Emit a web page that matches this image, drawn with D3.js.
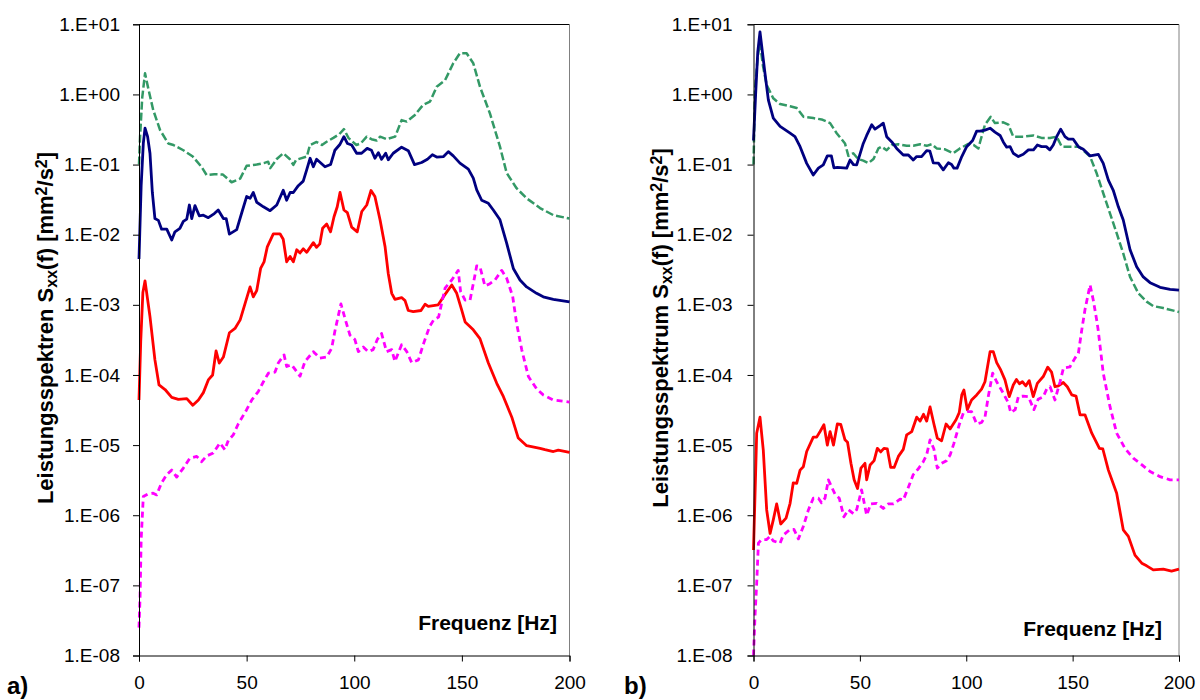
<!DOCTYPE html>
<html>
<head>
<meta charset="utf-8">
<script src="https://cdn.jsdelivr.net/npm/d3@7"></script>
<style>
  body { margin: 0; background: #fff; }
  svg { display: block; font-family: "Liberation Sans", Arial, sans-serif; }
</style>
</head>
<body>
<div id="chart-area"></div>
<script>
// Frequency [Hz] vs. power spectral density [mm^2/s^2]

// panel a)
var aGreen = [[0,0.1],[0.5,0.25],[1.5,0.9],[2.8,2.0],[4.3,1.22],[6.6,0.6],[9.8,0.31],[13.6,0.2],[16,0.19],[20.6,0.16],[25,0.13],[29,0.093],[31.4,0.071],[35,0.073],[39,0.072],[43,0.056],[47,0.063],[50,0.096],[54.7,0.1],[58,0.105],[60,0.11],[61,0.089],[64,0.12],[67,0.145],[70,0.12],[71.7,0.099],[73,0.117],[78,0.13],[79.4,0.19],[82.5,0.21],[85,0.19],[87,0.21],[90.3,0.24],[93,0.27],[95.2,0.32],[97.3,0.24],[101,0.19],[103,0.2],[105.8,0.25],[108,0.23],[110.4,0.22],[112,0.25],[115,0.23],[119,0.25],[122,0.43],[124.4,0.41],[128.2,0.51],[132,0.71],[135.2,0.79],[138.3,1.29],[142.2,1.6],[146,2.78],[149.1,3.87],[152.2,3.87],[155.3,2.78],[158.4,1.29],[163,0.54],[167.7,0.18],[170.8,0.076],[175.4,0.046],[180.1,0.033],[186.3,0.024],[192.5,0.019],[200,0.017]];
var aNavy = [[0,0.0045],[1,0.05],[2,0.2],[2.8,0.33],[4,0.25],[5.1,0.145],[6.2,0.04],[7.4,0.017],[9,0.016],[10.5,0.012],[12.9,0.012],[15.2,0.0084],[16.7,0.011],[19,0.0123],[20.6,0.0155],[22.2,0.0167],[23.4,0.0265],[24.5,0.017],[26,0.026],[28,0.0186],[29.9,0.019],[32.2,0.0175],[35,0.02],[36.8,0.0225],[39.2,0.017],[40.5,0.017],[42,0.0102],[45.4,0.0118],[47.7,0.0204],[50,0.035],[51.6,0.033],[53.1,0.04],[54.7,0.029],[57.8,0.025],[60.9,0.022],[64,0.0265],[67,0.043],[68.6,0.031],[70.2,0.04],[71.7,0.04],[74,0.05],[76.3,0.058],[77.9,0.084],[79.5,0.123],[81,0.093],[82.5,0.119],[86.4,0.093],[89,0.1],[91,0.16],[93.4,0.195],[95.2,0.25],[96.8,0.2],[98.8,0.19],[101.1,0.145],[103.4,0.145],[106,0.17],[108,0.16],[109.6,0.123],[111.2,0.148],[112.7,0.119],[114.6,0.145],[115.8,0.117],[118.1,0.145],[122,0.177],[125.1,0.158],[128,0.1],[131.3,0.107],[134,0.119],[136.3,0.138],[138.3,0.128],[141.5,0.13],[143.7,0.153],[146,0.133],[149.1,0.105],[153,0.086],[155.3,0.064],[156.9,0.0435],[159.2,0.031],[162.3,0.028],[164.6,0.0225],[167.7,0.0163],[170.8,0.0076],[173.9,0.0033],[177,0.00226],[180.1,0.0018],[184.7,0.00146],[187.8,0.0013],[192.5,0.0012],[200,0.0011]];
var aRed = [[0,4.4e-5],[0.8,3e-4],[1.8,1.5e-3],[2.8,2.2e-3],[5.1,6.8e-4],[7.4,1.64e-4],[9.3,7.2e-5],[12.1,6.2e-5],[15.2,4.8e-5],[18.3,4.5e-5],[22.2,4.6e-5],[25,3.7e-5],[27.6,4.4e-5],[29.9,5.6e-5],[32.2,8.5e-5],[34.2,1.0e-4],[35.8,2.2e-4],[37.3,1.48e-4],[39.2,1.8e-4],[42,4.0e-4],[44.6,4.6e-4],[47,6.1e-4],[49.3,1.05e-3],[51.6,1.8e-3],[53.1,1.3e-3],[54.7,1.6e-3],[56.5,3.3e-3],[58.1,4.1e-3],[59.6,6.7e-3],[62.4,0.0103],[65.5,0.0103],[67,0.0086],[68.6,4.1e-3],[70.2,4.9e-3],[71.7,4.1e-3],[73.3,6.1e-3],[74.8,5.5e-3],[76.3,6.3e-3],[77.9,5.6e-3],[81,7.7e-3],[82.5,6.6e-3],[84,7.4e-3],[85.3,0.0124],[87.2,0.0142],[89,0.011],[90.6,0.018],[92.1,0.025],[93.4,0.04],[95.2,0.0225],[96.8,0.0206],[98.8,0.0128],[101.4,0.011],[103.5,0.0214],[105.8,0.0265],[107.8,0.0427],[109.6,0.035],[112,0.0162],[114.3,6.8e-3],[115.8,2.8e-3],[117.4,1.46e-3],[118.9,1.2e-3],[122,1.27e-3],[123.6,1.15e-3],[125.1,8.3e-4],[127.4,8.0e-4],[131,8.3e-4],[132.9,1.02e-3],[134.4,9.5e-4],[139,1.0e-3],[141.7,1.34e-3],[145.3,1.92e-3],[147.6,1.46e-3],[149.9,8.5e-4],[151.5,5.7e-4],[155.3,4.4e-4],[158.4,3.3e-4],[162.3,1.48e-4],[166.2,7.6e-5],[169.3,4.9e-5],[173.2,2.5e-5],[176.2,1.26e-5],[180.1,9.8e-6],[186.3,9.0e-6],[188.6,8.6e-6],[192.5,8.1e-6],[194.8,8.5e-6],[200,7.9e-6]];
var aMagenta = [[0,2.5e-8],[0.5,7e-8],[1,4.5e-7],[2,1.85e-6],[4,2.0e-6],[6.6,2.06e-6],[8.2,1.95e-6],[10.5,2.9e-6],[12.9,3.8e-6],[15.2,4.4e-6],[17.5,3.5e-6],[20.6,4.7e-6],[23.6,6.5e-6],[26.8,6.9e-6],[29.1,5.8e-6],[31.4,7.0e-6],[34.5,7.7e-6],[37.6,1.07e-5],[39.9,8.6e-6],[41.5,1.17e-5],[43.8,1.4e-5],[46.1,2.0e-5],[50,3.2e-5],[52.4,4.4e-5],[55.4,5.8e-5],[57.8,8.0e-5],[60.1,1.06e-4],[63.2,1.1e-4],[64.7,1.48e-4],[67.4,1.93e-4],[68.6,1.32e-4],[70.9,1.4e-4],[72.5,1.2e-4],[74.8,9.6e-5],[77.1,1.56e-4],[81,2.15e-4],[84,1.74e-4],[87.2,1.8e-4],[89.5,2.4e-4],[91,4.2e-4],[93.8,1.03e-3],[95.7,6.4e-4],[98,3.7e-4],[100.3,3.2e-4],[101.9,2.15e-4],[104.2,2.5e-4],[106.5,2.15e-4],[108.8,2.3e-4],[110.7,3.2e-4],[112.7,3.9e-4],[115,2.15e-4],[117.4,2.3e-4],[118.9,1.56e-4],[122,2.7e-4],[124.4,2.15e-4],[126.7,1.5e-4],[129.8,1.64e-4],[132.2,2.8e-4],[135,4.9e-4],[136.9,6.1e-4],[139.2,6.7e-4],[140.6,1.05e-3],[142.2,1.73e-3],[145.3,2.26e-3],[148.3,3.1e-3],[149.4,1.55e-3],[151.5,1.17e-3],[153.8,1.17e-3],[155.8,2.4e-3],[156.9,3.6e-3],[158.4,3.5e-3],[160.7,1.86e-3],[163,2.0e-3],[165.4,2.26e-3],[168.5,3.1e-3],[170.8,2.4e-3],[173.6,1.32e-3],[175.4,5.5e-4],[177.8,2.3e-4],[180.9,9.5e-5],[184.8,6.3e-5],[187.8,5.2e-5],[192.5,4.4e-5],[200,4.1e-5]];

// panel b)
var bGreen = [[0,0.1],[0.7,1.16],[2,3.5],[3.05,5.4],[4.5,2.5],[6.2,1.36],[9.3,0.88],[12.5,0.73],[17.2,0.68],[20.3,0.64],[23.5,0.48],[28.1,0.46],[32,0.44],[36,0.39],[39.1,0.28],[43,0.2],[44.6,0.133],[46.9,0.145],[49.2,0.12],[51.6,0.114],[54,0.105],[56.4,0.12],[58.7,0.17],[60.2,0.18],[62.6,0.16],[65,0.19],[68.1,0.195],[72,0.185],[75.1,0.185],[78.3,0.195],[81.4,0.185],[83.8,0.195],[86.1,0.17],[90,0.165],[93.9,0.145],[97,0.17],[101,0.197],[103.5,0.19],[105.7,0.17],[106.5,0.21],[108.8,0.37],[111.5,0.48],[113.5,0.39],[117.4,0.4],[119.8,0.37],[122.1,0.25],[126.8,0.25],[131.6,0.26],[135.4,0.24],[139.4,0.24],[142.5,0.25],[144.9,0.18],[148.7,0.18],[152.7,0.18],[155,0.16],[158.2,0.13],[161.3,0.075],[164.4,0.039],[167.6,0.02],[170.7,0.0105],[173.8,5.4e-3],[177,2.5e-3],[180.9,1.46e-3],[184.8,1.11e-3],[187.9,9.6e-4],[192.6,9.0e-4],[200,7.9e-4]];
var bNavy = [[0,0.22],[1,1.0],[2,4.0],[3.05,7.8],[4.2,4.0],[5.4,2.0],[7,0.83],[9.3,0.46],[12.5,0.35],[17.2,0.28],[19.5,0.25],[21.9,0.18],[25,0.104],[28.1,0.071],[30.5,0.089],[32.8,0.099],[34.7,0.133],[36.6,0.133],[37.8,0.09],[39.4,0.091],[43.8,0.089],[45.4,0.116],[47,0.1],[48.5,0.099],[51.6,0.2],[53.2,0.26],[55.6,0.37],[57.1,0.32],[59.5,0.36],[61,0.39],[62.6,0.25],[65,0.21],[67.3,0.17],[70.4,0.137],[72.8,0.137],[75.1,0.116],[76.7,0.13],[79,0.13],[81.4,0.158],[82.9,0.155],[84.5,0.106],[86.9,0.105],[89.2,0.084],[91.6,0.106],[93.1,0.1],[94.2,0.089],[95.7,0.089],[97.9,0.13],[100.2,0.18],[103,0.22],[104.9,0.3],[106.5,0.3],[108.8,0.31],[111.2,0.33],[113.5,0.29],[115.9,0.26],[117.4,0.21],[119,0.177],[120.6,0.18],[122.1,0.145],[124.5,0.13],[126.8,0.14],[129.2,0.162],[131.6,0.162],[133.4,0.19],[135.4,0.18],[137.6,0.18],[139.3,0.162],[140.9,0.19],[142.5,0.25],[144.4,0.32],[146.4,0.25],[148,0.23],[150.3,0.23],[152.7,0.18],[155,0.165],[158.2,0.133],[162.1,0.14],[164.4,0.104],[166.8,0.06],[169.1,0.043],[171.5,0.025],[173.8,0.0162],[177,6.1e-3],[180.1,3.5e-3],[183.2,2.5e-3],[186.4,2.07e-3],[191.1,1.78e-3],[195.8,1.66e-3],[200,1.62e-3]];
var bRed = [[0,3.2e-7],[1,4e-6],[1.5,1.48e-5],[3.05,2.5e-5],[4.6,8.5e-6],[6.2,1.19e-6],[7.8,5.5e-7],[9.3,8.6e-7],[10.9,1.45e-6],[12.8,7.5e-7],[15.3,9.1e-7],[17.2,1.48e-6],[18.7,2.9e-6],[20.3,2.85e-6],[21.9,4.4e-6],[23.4,4.9e-6],[25,8.1e-6],[28.1,1.3e-5],[29.7,1.3e-5],[31.3,1.56e-5],[33.1,1.95e-5],[34.7,1.0e-5],[36,1.56e-5],[37.6,1.0e-5],[39.4,2.0e-5],[41,1.98e-5],[43,1.19e-5],[44.2,1.1e-5],[45.8,5.5e-6],[47.3,3.2e-6],[48.9,2.4e-6],[50.5,4.7e-6],[52.4,5.5e-6],[53.2,3.2e-6],[54.8,5.2e-6],[56.7,6.0e-6],[58.2,9.0e-6],[59.8,8.0e-6],[61.3,9.0e-6],[62.9,8.8e-6],[64.5,4.8e-6],[66.1,4.8e-6],[68.1,6.9e-6],[70.4,8.7e-6],[72,1.4e-5],[74.4,1.56e-5],[76.7,2.5e-5],[78.3,2.2e-5],[79.9,2.75e-5],[81.4,2.2e-5],[83,3.5e-5],[84.8,2.0e-5],[86.4,1.26e-5],[88.4,1.15e-5],[90.5,2.0e-5],[92.4,1.7e-5],[95.2,2.3e-5],[96.7,2.9e-5],[97.9,5.2e-5],[98.9,6.1e-5],[100.5,3.2e-5],[102.5,4.4e-5],[104.9,5.2e-5],[107.2,6.3e-5],[108.8,8.0e-5],[111.2,2.15e-4],[112.7,2.15e-4],[114.3,1.5e-4],[116.2,1.18e-4],[118.2,8.5e-5],[120.2,4.9e-5],[122.1,7.2e-5],[123.6,8.6e-5],[125,7.5e-5],[126.4,8.0e-5],[128,7.0e-5],[129.6,8.3e-5],[131.5,4.9e-5],[133.4,7.6e-5],[136.2,9.5e-5],[138.3,1.29e-4],[140.1,1.1e-4],[141.7,6.8e-5],[143.3,7.0e-5],[145.6,7.8e-5],[147.5,6.8e-5],[149.6,5.2e-5],[151.6,5.0e-5],[153.5,2.7e-5],[155.8,2.7e-5],[159,1.48e-5],[162.6,9.0e-6],[164.2,8.8e-6],[166.8,4.4e-6],[170.7,2.06e-6],[173.8,6.2e-7],[176.2,5.0e-7],[179.3,2.7e-7],[182.5,2.07e-7],[184.8,1.9e-7],[187.9,1.66e-7],[192.6,1.7e-7],[196.5,1.6e-7],[200,1.7e-7]];
var bMagenta = [[0,1.0e-8],[0.7,3.6e-8],[1.5,1.07e-7],[2.3,4.0e-7],[3.8,4.5e-7],[6.2,4.5e-7],[7.8,5e-7],[9.3,4.3e-7],[12.5,4.0e-7],[14,5.2e-7],[17.2,6.3e-7],[19,6.3e-7],[21.1,4.6e-7],[23.4,6.9e-7],[25.8,1.19e-6],[28.1,1.75e-6],[30.5,1.75e-6],[32,1.5e-6],[33.6,1.75e-6],[35.2,3.2e-6],[36.8,2.5e-6],[38.3,2.0e-6],[40.3,1.75e-6],[42.5,9.5e-7],[44.6,1.2e-6],[47,1.05e-6],[48.5,1.2e-6],[50.8,2.3e-6],[53.2,1.0e-6],[55.1,1.45e-6],[57.9,1.48e-6],[61,1.25e-6],[63.4,1.45e-6],[65.8,1.45e-6],[68.9,1.7e-6],[70.4,1.65e-6],[72.8,2.5e-6],[75.1,3.8e-6],[77.5,4.6e-6],[79.8,5.8e-6],[81.4,7.3e-6],[83,1.19e-5],[84.8,8.8e-6],[86.4,4.7e-6],[88.4,5.5e-6],[90.7,6.0e-6],[92.4,7.2e-6],[94.2,1.06e-5],[96.7,1.95e-5],[98.6,2.85e-5],[100.5,3.0e-5],[102.5,3.0e-5],[104.9,2.0e-5],[107.2,2.1e-5],[108.8,2.5e-5],[110.4,5.0e-5],[112.4,1.06e-4],[114.3,8.0e-5],[117.4,5.5e-5],[119.8,4.0e-5],[120.9,2.9e-5],[123,3.2e-5],[124.5,4.9e-5],[126.8,5.0e-5],[129.2,4.9e-5],[131.8,3.2e-5],[133.8,4.5e-5],[136.2,4.9e-5],[137.8,6.3e-5],[139.4,6.8e-5],[141.7,4.4e-5],[144.1,8.0e-5],[145.7,1.26e-4],[148.7,1.3e-4],[151.1,1.74e-4],[152.7,2.04e-4],[154.3,4.4e-4],[155.8,8.5e-4],[158.2,1.92e-3],[159.7,1.17e-3],[161.3,6.1e-4],[162,4.4e-4],[164.4,1.06e-4],[167.6,3.5e-5],[170.7,1.48e-5],[174.6,9.0e-6],[178.5,6.5e-6],[181.7,5.5e-6],[186.4,4.2e-6],[191.1,3.55e-6],[195.8,3.2e-6],[200,3.2e-6]];

var xTicks = [0, 50, 100, 150, 200];
var yTicks = [1e1, 1e0, 1e-1, 1e-2, 1e-3, 1e-4, 1e-5, 1e-6, 1e-7, 1e-8];

var svg = d3.select("#chart-area")
    .append("svg")
    .attr("width", 1200)
    .attr("height", 700);

function fmtExp(v) {
    var e = Math.round(Math.log10(v));
    return "1.E" + (e < 0 ? "-" : "+") + String(Math.abs(e)).padStart(2, "0");
}

function drawPanel(p) {
    var x = d3.scaleLinear().domain([0, 200]).range([p.left, p.right]);
    var y = d3.scaleLog().domain([1e-8, 1e1]).range([655.5, 24.3]);
    var g = svg.append("g");

    // frame: top black, right grey
    g.append("line").attr("x1", p.left).attr("x2", p.right).attr("y1", 24.5).attr("y2", 24.5)
        .attr("stroke", "#000").attr("stroke-width", 1);
    g.append("line").attr("x1", p.right).attr("x2", p.right).attr("y1", 24.5).attr("y2", 655.5)
        .attr("stroke", "#808080").attr("stroke-width", 1);

    var line = d3.line()
        .x((d) => x(d[0]))
        .y((d) => y(d[1]));

    p.series.forEach((s) => {
        g.append("path")
            .datum(s.data)
            .attr("d", line)
            .attr("fill", "none")
            .attr("stroke", s.color)
            .attr("stroke-width", s.width)
            .attr("stroke-dasharray", s.dash)
            .attr("stroke-linejoin", "round");
    });

    var xAxis = g.append("g")
        .attr("transform", "translate(0,655.5)")
        .call(d3.axisBottom(x).tickValues(xTicks).tickSize(6).tickPadding(14).tickFormat(d3.format("d")));
    var yAxis = g.append("g")
        .attr("transform", "translate(" + p.left + ",0)")
        .call(d3.axisLeft(y).tickValues(yTicks).tickSize(6).tickPadding(p.ypad).tickFormat(fmtExp));
    [xAxis, yAxis].forEach((a) => {
        a.selectAll("path").attr("stroke", "#000");
        a.selectAll("line").attr("stroke", "#000");
        a.selectAll("text").attr("font-family", "'Liberation Sans', Arial, sans-serif")
            .attr("font-size", 19).attr("fill", "#000");
    });

    g.append("text")
        .attr("x", p.xtitleX).attr("y", p.xtitleY)
        .attr("text-anchor", "end")
        .attr("font-weight", "bold").attr("font-size", 21)
        .text("Frequenz [Hz]");

    var yt = g.append("text")
        .attr("transform", "translate(" + p.ytitleX + ",328) rotate(-90)")
        .attr("text-anchor", "middle")
        .attr("font-weight", "bold").attr("font-size", 22);
    yt.append("tspan").text(p.ytitle + " S");
    yt.append("tspan").attr("baseline-shift", "-25%").attr("font-size", 16).text("xx");
    yt.append("tspan").text("(f) [mm");
    yt.append("tspan").attr("baseline-shift", "35%").attr("font-size", 16).text("2");
    yt.append("tspan").text("/s");
    yt.append("tspan").attr("baseline-shift", "35%").attr("font-size", 16).text("2");
    yt.append("tspan").text("]");

    g.append("text")
        .attr("x", p.tagX).attr("y", 694)
        .attr("font-weight", "bold").attr("font-size", 24)
        .text(p.tag);
}

function seriesList(green, navy, red, magenta) {
    return [
        { data: green, color: "#339966", width: 2.5, dash: "8,3" },
        { data: navy, color: "#000080", width: 2.8, dash: null },
        { data: red, color: "#ff0000", width: 2.8, dash: null },
        { data: magenta, color: "#ff00ff", width: 2.8, dash: "6,4" }
    ];
}

drawPanel({
    left: 139, right: 569.5, ypad: 13,
    xtitleX: 557, xtitleY: 630,
    ytitleX: 53, ytitle: "Leistungsspektren", tag: "a)", tagX: 7,
    series: seriesList(aGreen, aNavy, aRed, aMagenta)
});
drawPanel({
    left: 753.5, right: 1179, ypad: 15,
    xtitleX: 1162, xtitleY: 636,
    ytitleX: 668, ytitle: "Leistungsspektrum", tag: "b)", tagX: 624,
    series: seriesList(bGreen, bNavy, bRed, bMagenta)
});
</script>
</body>
</html>
